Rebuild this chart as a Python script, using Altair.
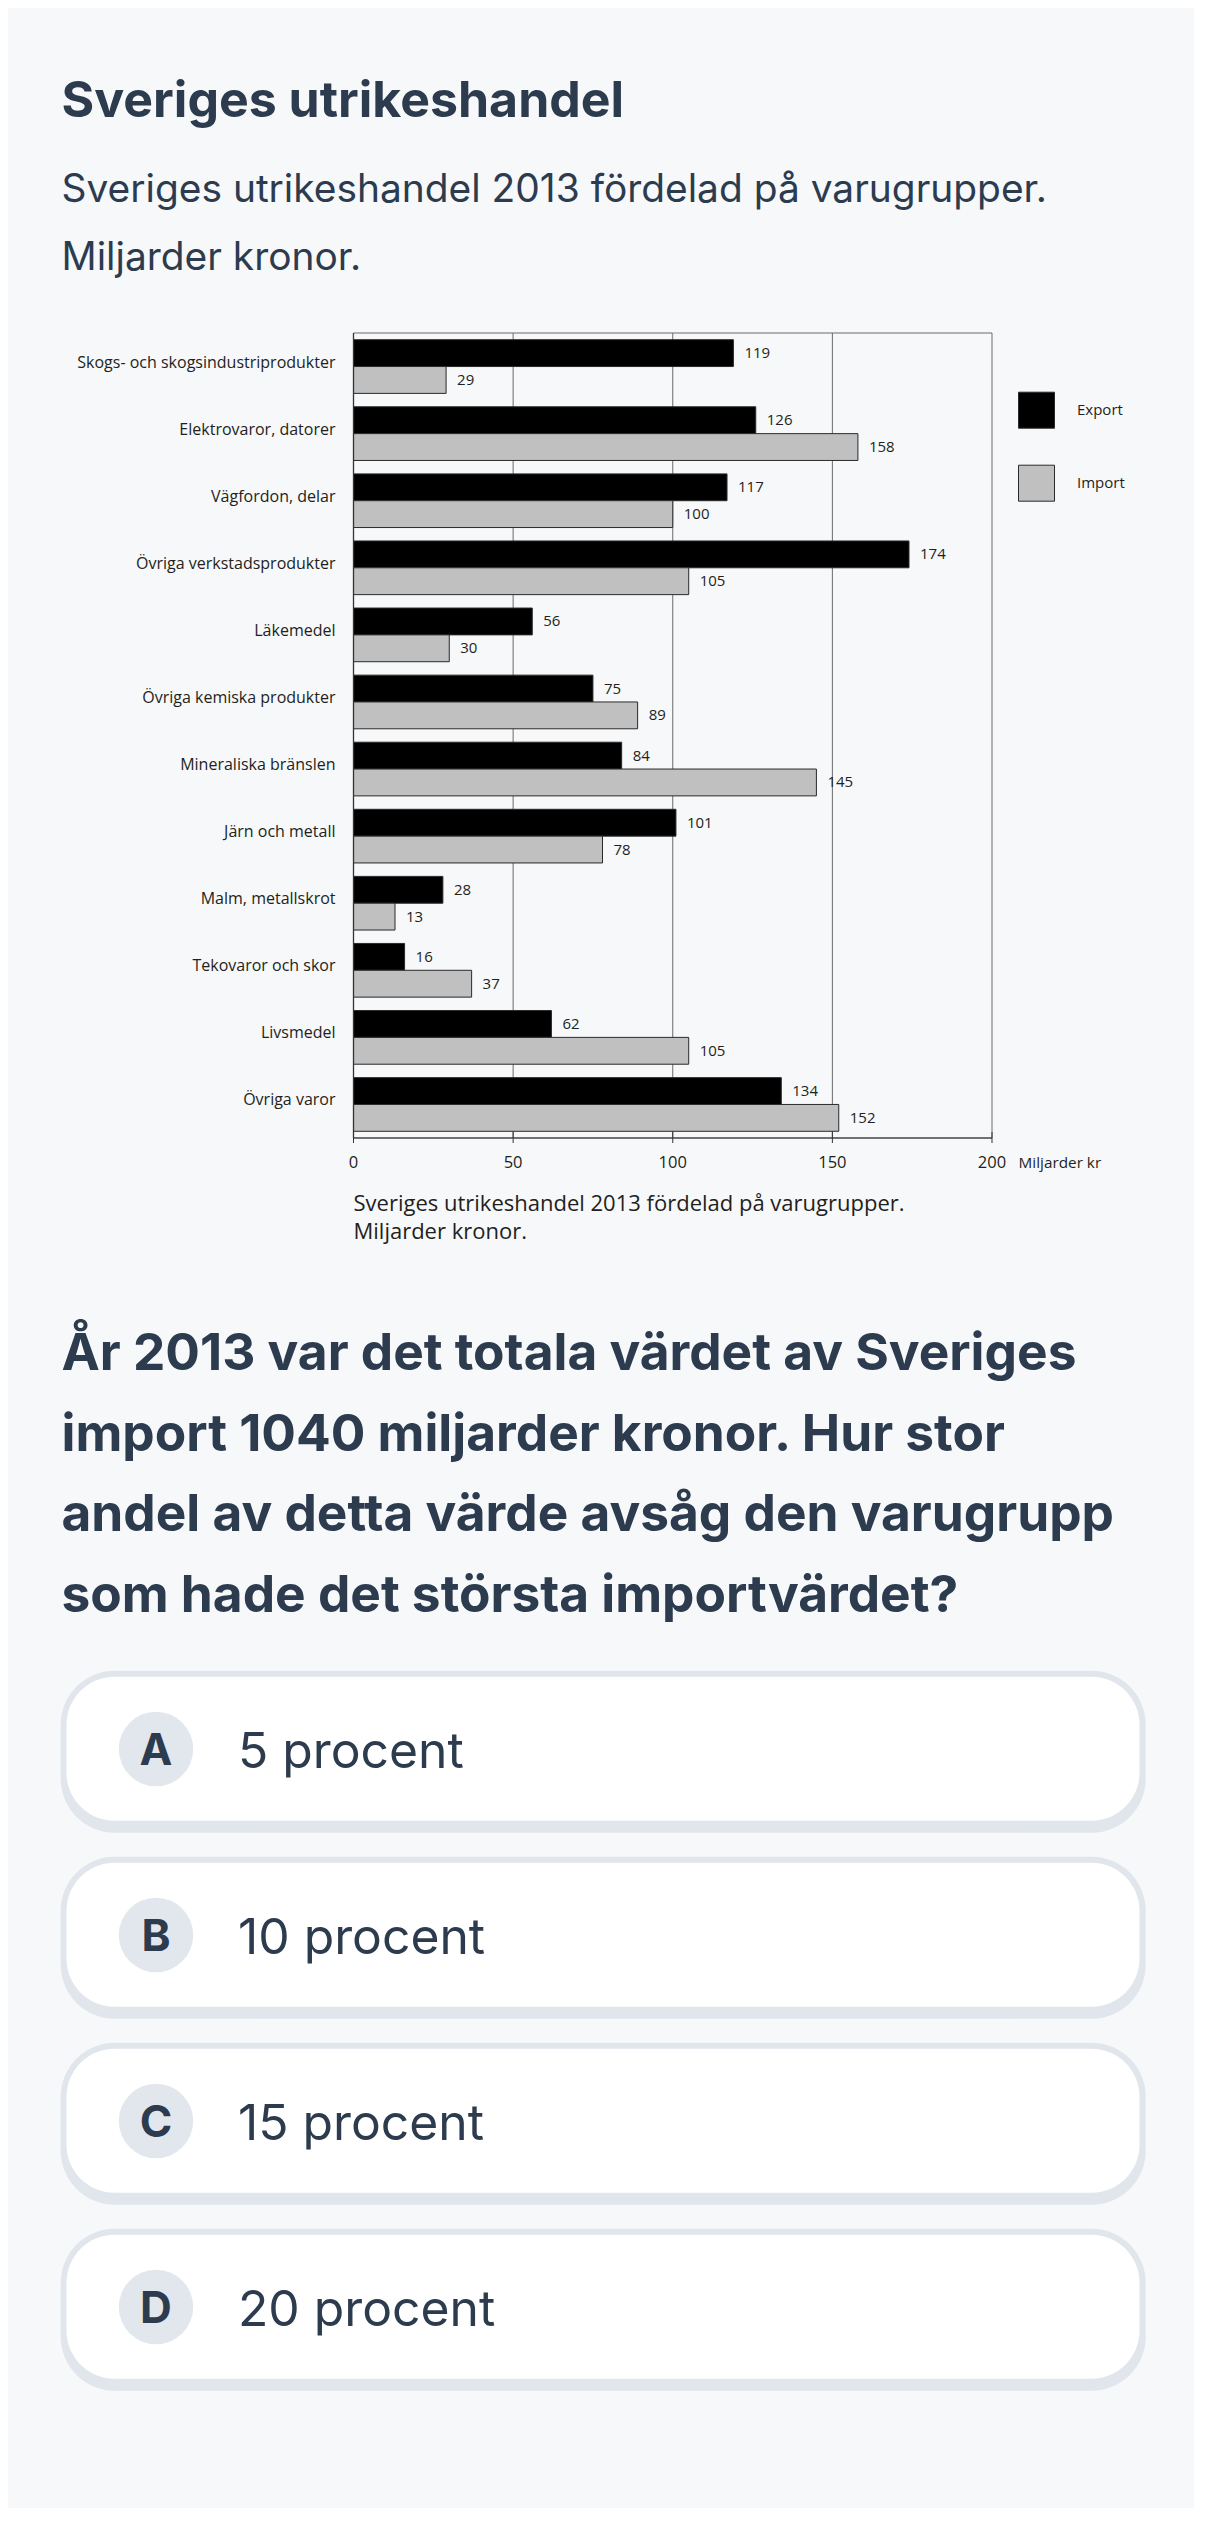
import altair as alt
import pandas as pd

# ---------------- data ----------------
categories = [
    "Skogs- och skogsindustriprodukter",
    "Elektrovaror, datorer",
    "Vägfordon, delar",
    "Övriga verkstadsprodukter",
    "Läkemedel",
    "Övriga kemiska produkter",
    "Mineraliska bränslen",
    "Järn och metall",
    "Malm, metallskrot",
    "Tekovaror och skor",
    "Livsmedel",
    "Övriga varor",
]
export_vals = [119, 126, 117, 174, 56, 75, 84, 101, 28, 16, 62, 134]
import_vals = [29, 158, 100, 105, 30, 89, 145, 78, 13, 37, 105, 152]
series = ["Export", "Import"]
x_ticks = [0, 50, 100, 150, 200]
grid_vals = [50, 100, 150]

title_text = "Sveriges utrikeshandel"
subtitle_lines = ["Sveriges utrikeshandel 2013 fördelad på varugrupper.", "Miljarder kronor."]
caption_lines = ["Sveriges utrikeshandel 2013 fördelad på varugrupper.", "Miljarder kronor."]
axis_unit = "Miljarder kr"
question_lines = [
    "År 2013 var det totala värdet av Sveriges",
    "import 1040 miljarder kronor. Hur stor",
    "andel av detta värde avsåg den varugrupp",
    "som hade det största importvärdet?",
]
option_letters = ["A", "B", "C", "D"]
option_texts = ["5 procent", "10 procent", "15 procent", "20 procent"]

# ---------------- tables ----------------
rows = []
for c, e, i in zip(categories, export_vals, import_vals):
    rows.append({"category": c, "series": "Export", "value": e})
    rows.append({"category": c, "series": "Import", "value": i})
df = pd.DataFrame(rows)
cat_df = pd.DataFrame({"category": categories})
grid_df = pd.DataFrame({"v": grid_vals})
tick_df = pd.DataFrame({"t": x_ticks})
one = pd.DataFrame({"k": [0]})

# ---------------- layout ----------------
NAVY = "#2c3b4e"
INK = "#231f20"
PAGE_FONT = "Inter"
CHART_FONT = "Open Sans"

# plot area in page pixels
PL, PR, PT, PB = 353.5, 992.0, 333.0, 1138.0
TOTAL_W, TOTAL_H = 1186, 2500
PW, PH = PR - PL, PB - PT
pad = {"left": PL - 8, "top": PT - 8,
       "right": TOTAL_W - (PR - 8), "bottom": TOTAL_H - (PB - 8)}


def vx(x):  # page x -> view x
    return x - PL


def vy(y):  # page y -> view y
    return y - PT


xscale = alt.Scale(domain=[0, 200], nice=False, zero=True)
yscale = alt.Scale(paddingInner=0.2, paddingOuter=0.1)
offscale = alt.Scale(paddingInner=0, paddingOuter=0)

grid = alt.Chart(grid_df).mark_rule(color="#6a6a6a", strokeWidth=1).encode(
    x=alt.X("v:Q", scale=xscale, axis=None),
    y=alt.value(0), y2=alt.value(PH),
)

frame = alt.Chart(one).mark_rect(filled=False, stroke="#6a6a6a", strokeWidth=1).encode(
    x=alt.X(datum=0, type="quantitative", scale=xscale, axis=None),
    x2=alt.X2(datum=200),
    y=alt.value(0), y2=alt.value(PH),
)

bars = alt.Chart(df).mark_bar(stroke="#2a2a2a", strokeWidth=1).encode(
    x=alt.X("value:Q", scale=xscale, axis=None),
    y=alt.Y("category:N", sort=categories, scale=yscale, axis=None),
    yOffset=alt.YOffset("series:N", sort=series, scale=offscale),
    fill=alt.Fill(
        "series:N",
        scale=alt.Scale(domain=series, range=["#000000", "#c0c0c0"]),
        legend=alt.Legend(
            orient="none", legendX=vx(1018), legendY=vy(391.7), direction="vertical",
            title=None, symbolType="square", symbolSize=1296,
            symbolStrokeColor="#2a2a2a", symbolStrokeWidth=1,
            labelFont=CHART_FONT, labelFontSize=15, labelColor=INK,
            labelOffset=22, rowPadding=32, padding=0, offset=0,
        ),
    ),
)

value_labels = alt.Chart(df).mark_text(
    align="left", baseline="middle", dx=11, font=CHART_FONT, fontSize=15, color=INK
).encode(
    x=alt.X("value:Q", scale=xscale, axis=None),
    y=alt.Y("category:N", sort=categories, scale=yscale, axis=None),
    yOffset=alt.YOffset("series:N", sort=series, scale=offscale),
    text=alt.Text("value:Q"),
)

# left and bottom axis lines (dark), ticks, tick labels, category labels
left_line = alt.Chart(one).mark_rule(color="#333333", strokeWidth=1.3).encode(
    x=alt.X(datum=0, type="quantitative", scale=xscale, axis=None),
    y=alt.value(0), y2=alt.value(PH),
)
bottom_line = alt.Chart(one).mark_rule(color="#333333", strokeWidth=1.2).encode(
    x=alt.X(datum=0, type="quantitative", scale=xscale, axis=None),
    x2=alt.X2(datum=200),
    y=alt.value(PH),
)
ticks = alt.Chart(tick_df).mark_rule(color="#333333", strokeWidth=1).encode(
    x=alt.X("t:Q", scale=xscale, axis=None),
    y=alt.value(PH - 6), y2=alt.value(PH + 5),
)
tick_labels = alt.Chart(tick_df).mark_text(
    align="center", baseline="middle", font=CHART_FONT, fontSize=16.5, color=INK
).encode(
    x=alt.X("t:Q", scale=xscale, axis=None),
    y=alt.value(PH + 25.3),
    text=alt.Text("t:Q"),
)
cat_labels = alt.Chart(cat_df).mark_text(
    align="right", baseline="middle", dx=-18, dy=-4, font=CHART_FONT, fontSize=16, color=INK
).encode(
    y=alt.Y("category:N", sort=categories, scale=yscale, axis=None),
    x=alt.value(0),
    text=alt.Text("category:N"),
)


def text_layer(lines, x, y, size, weight="normal", font=PAGE_FONT, color=NAVY,
               line_height=None, align="left", baseline="alphabetic"):
    kw = dict(text=lines, align=align, baseline=baseline, font=font,
              fontSize=size, fontWeight=weight, color=color)
    if line_height is not None:
        kw["lineHeight"] = line_height
    return alt.Chart(one).mark_text(**kw).encode(x=alt.value(vx(x)), y=alt.value(vy(y)))


layers = [grid, bars, frame, left_line, bottom_line, ticks, value_labels,
          tick_labels, cat_labels]
layers.append(text_layer(axis_unit, 1018.6, 1163.3, 15.3, font=CHART_FONT,
                         color=INK, baseline="middle"))

layers.append(text_layer(title_text, 61.5, 116.7, 50, weight="bold"))
layers.append(text_layer(subtitle_lines, 61.5, 202, 38.9, line_height=68))
layers.append(text_layer(caption_lines, PL, 1210.7, 22, font=CHART_FONT,
                         color=INK, line_height=28.6))
layers.append(text_layer(question_lines, 61.5, 1370, 51.4, weight="bold",
                         line_height=80.6))

for i, (letter, txt) in enumerate(zip(option_letters, option_texts)):
    T = 1670.7 + 186 * i
    layers.append(
        alt.Chart(one).mark_rect(cornerRadius=54, color="#e1e6ed").encode(
            x=alt.value(vx(60.7)), x2=alt.value(vx(1145.7)),
            y=alt.value(vy(T)), y2=alt.value(vy(T + 162)),
        )
    )
    layers.append(
        alt.Chart(one).mark_rect(cornerRadius=48, color="#ffffff").encode(
            x=alt.value(vx(66.5)), x2=alt.value(vx(1139.5)),
            y=alt.value(vy(T + 6)), y2=alt.value(vy(T + 150)),
        )
    )
    layers.append(
        alt.Chart(one).mark_circle(size=5542, color="#e2e7ee", opacity=1).encode(
            x=alt.value(vx(156)), y=alt.value(vy(T + 78.3))
        )
    )
    layers.append(text_layer(letter, 156, T + 94.3, 44, weight="bold", align="center"))
    layers.append(text_layer(txt, 238, T + 97.6, 49.8))

chart = alt.layer(*layers).properties(
    width=PW, height=PH, background="#f7f8fa", padding=pad,
    autosize=alt.AutoSizeParams(type="none"),
).configure_view(strokeWidth=0)

chart.save("out.html", embed_options={"renderer": "svg", "actions": False})
